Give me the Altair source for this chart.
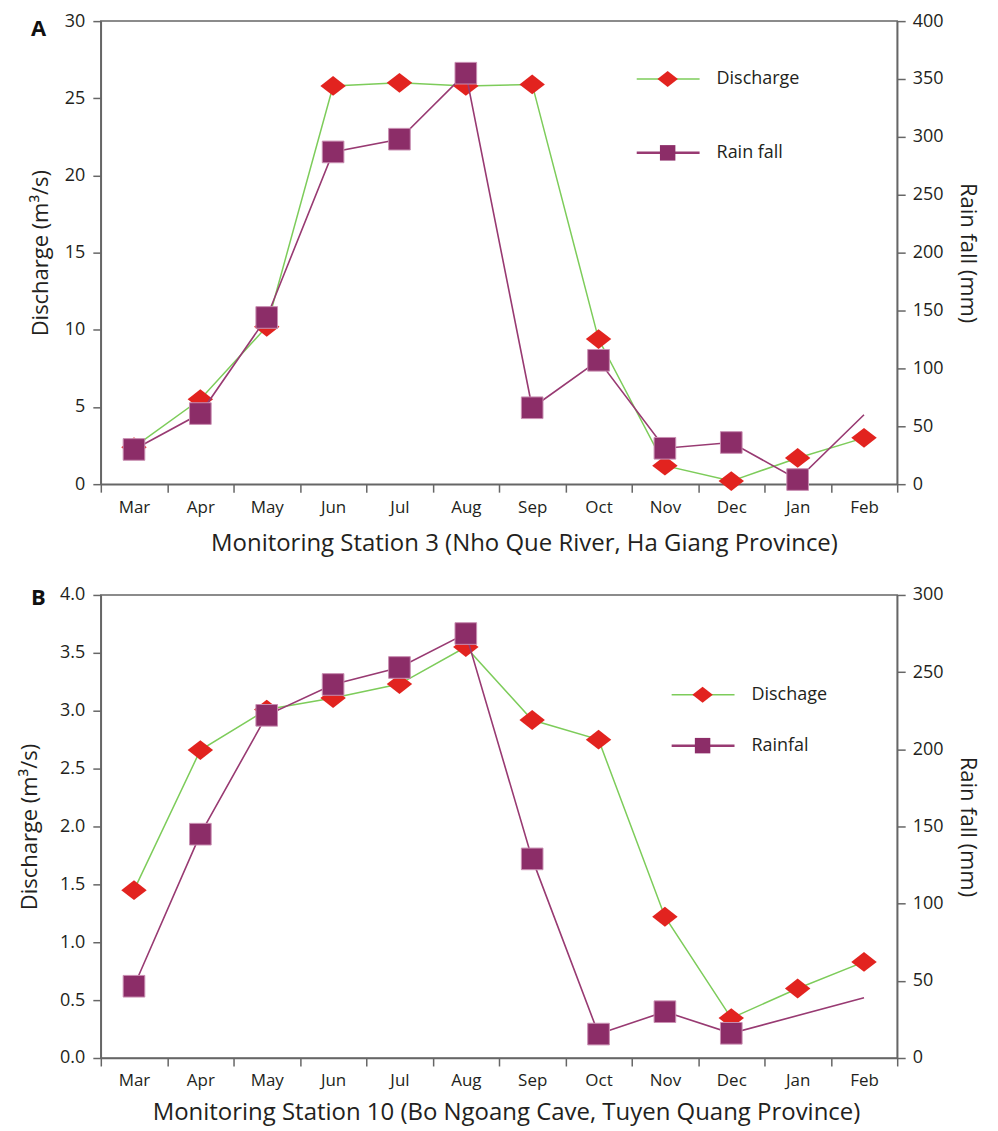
import altair as alt
import pandas as pd

months = ["Mar", "Apr", "May", "Jun", "Jul", "Aug", "Sep", "Oct", "Nov", "Dec", "Jan", "Feb"]

# Panel A - Monitoring Station 3
a_discharge = [2.4, 5.5, 10.2, 25.8, 26.0, 25.8, 25.9, 9.4, 1.2, 0.2, 1.7, 3.0]
a_rainfall = [30, 61, 144, 287, 298, 355, 66, 107, 31, 36, 4, 60]
a_rain_marker = [True] * 11 + [False]
a_legend = ["Discharge", "Rain fall"]
a_xtitle = "Monitoring Station 3 (Nho Que River, Ha Giang Province)"

# Panel B - Monitoring Station 10
b_discharge = [1.45, 2.66, 3.01, 3.11, 3.23, 3.55, 2.92, 2.75, 1.22, 0.345, 0.60, 0.83]
b_rainfall = [46.5, 145, 222, 242, 253, 275, 129, 15.5, 30, 16, None, 39]
b_rain_marker = [True] * 10 + [False, False]
b_legend = ["Dischage", "Rainfal"]
b_xtitle = "Monitoring Station 10 (Bo Ngoang Cave, Tuyen Quang Province)"

a_left_ticks = [0, 5, 10, 15, 20, 25, 30]
a_right_ticks = [0, 50, 100, 150, 200, 250, 300, 350, 400]
b_left_ticks = [0, 0.5, 1.0, 1.5, 2.0, 2.5, 3.0, 3.5, 4.0]
b_right_ticks = [0, 50, 100, 150, 200, 250, 300]

GREEN = "#7dcc5a"
RED = "#e2231f"
PURPLE_LINE = "#983a72"
PURPLE_FILL = "#8c2d68"
TEXT = "#231f20"
FONT = "Open Sans"
DIAMOND = "M-1,0L0,-0.78L1,0L0,0.78Z"

W = 798


def panel(letter, letter_y, discharge, rainfall, marker, left_ticks, left_fmt, right_ticks,
          xtitle, xtitle_pad, xtitle_x, ytitle_pad, legend_names, leg_x, leg_y1, leg_y2, H):
    df = pd.DataFrame({
        "month": months,
        "discharge": discharge,
        "rainfall": rainfall,
        "marker": marker,
    })
    base = alt.Chart(df)
    x = alt.X(
        "month:N", sort=months,
        scale=alt.Scale(paddingInner=0, paddingOuter=0),
        axis=alt.Axis(title=xtitle, tickBand="extent", labelAngle=0, labelFontSize=17,
                      labelPadding=7, titlePadding=xtitle_pad, titleFontSize=24,
                      titleX=xtitle_x),
    )
    yl = alt.Y(
        "discharge:Q",
        scale=alt.Scale(domain=[left_ticks[0], left_ticks[-1]], nice=False, zero=True),
        axis=alt.Axis(orient="left", values=left_ticks, format=left_fmt,
                      title="Discharge (m³/s)", titlePadding=ytitle_pad, labelPadding=8),
    )
    yr = alt.Y(
        "rainfall:Q",
        scale=alt.Scale(domain=[right_ticks[0], right_ticks[-1]], nice=False, zero=True),
        axis=alt.Axis(orient="right", values=right_ticks, format="d",
                      title="Rain fall (mm)", titlePadding=13, labelPadding=7),
    )
    dline = base.mark_line(color=GREEN, strokeWidth=1.5).encode(x=x, y=yl)
    dpts = base.mark_point(shape=DIAMOND, filled=True, size=650, color=RED, opacity=1).encode(
        x=x, y=alt.Y("discharge:Q"))
    rline = base.transform_filter("isValid(datum.rainfall)").mark_line(
        color=PURPLE_LINE, strokeWidth=1.6).encode(x=x, y=yr)
    rpts = base.transform_filter("datum.marker").mark_point(
        shape="square", filled=True, size=470, color=PURPLE_FILL, opacity=1,
        stroke="#c98fb2", strokeWidth=1).encode(x=x, y=alt.Y("rainfall:Q"))

    left = alt.layer(dline, dpts)
    right = alt.layer(rline, rpts)
    core = alt.layer(left, right).resolve_scale(y="independent")

    one = pd.DataFrame({"label": [legend_names[0]]})
    two = pd.DataFrame({"label": [legend_names[1]]})
    lg1_line = alt.Chart(one).mark_rule(color=GREEN, strokeWidth=1.5).encode(
        x=alt.value(leg_x), x2=alt.value(leg_x + 63), y=alt.value(leg_y1))
    lg1_pt = alt.Chart(one).mark_point(shape=DIAMOND, filled=True, size=420, color=RED, opacity=1).encode(
        x=alt.value(leg_x + 31), y=alt.value(leg_y1))
    lg1_txt = alt.Chart(one).mark_text(align="left", baseline="middle", fontSize=18, font=FONT, color=TEXT).encode(
        x=alt.value(leg_x + 80), y=alt.value(leg_y1), text="label:N")
    lg2_line = alt.Chart(two).mark_rule(color=PURPLE_LINE, strokeWidth=2.5).encode(
        x=alt.value(leg_x), x2=alt.value(leg_x + 63), y=alt.value(leg_y2))
    lg2_pt = alt.Chart(two).mark_point(shape="square", filled=True, size=240, color=PURPLE_FILL, opacity=1).encode(
        x=alt.value(leg_x + 31), y=alt.value(leg_y2))
    lg2_txt = alt.Chart(two).mark_text(align="left", baseline="middle", fontSize=18, font=FONT, color=TEXT).encode(
        x=alt.value(leg_x + 80), y=alt.value(leg_y2), text="label:N")
    let = alt.Chart(pd.DataFrame({"t": [letter]})).mark_text(
        align="left", baseline="middle", fontSize=22, fontWeight="bold", font=FONT, color="#111").encode(
        x=alt.value(-70), y=alt.value(letter_y), text="t:N")

    return alt.layer(core, lg1_line, lg1_pt, lg1_txt, lg2_line, lg2_pt, lg2_txt, let).properties(
        width=W, height=H)


pA = panel("A", 8, a_discharge, a_rainfall, a_rain_marker, a_left_ticks, "d", a_right_ticks,
           a_xtitle, 16, 424, 12, a_legend, 537, 58, 132, 464)
pB = panel("B", 3, b_discharge, b_rainfall, b_rain_marker, b_left_ticks, ".1f", b_right_ticks,
           b_xtitle, 12, 406, 18, b_legend, 572, 100, 151, 464)

chart = alt.vconcat(pA, pB, spacing=29).properties(
    padding={"left": 9, "top": 2, "right": 10, "bottom": 0}
).configure_view(
    stroke="#666", strokeWidth=1.5
).configure_axis(
    grid=False, domainColor="#666", domainWidth=1.5, tickColor="#666", tickWidth=1.5,
    tickSize=8, labelFont=FONT, labelFontSize=18, labelColor=TEXT,
    titleFont=FONT, titleFontSize=22, titleFontWeight="normal", titleColor=TEXT,
)

chart.save("out.html", embed_options={"renderer": "svg", "actions": False})
